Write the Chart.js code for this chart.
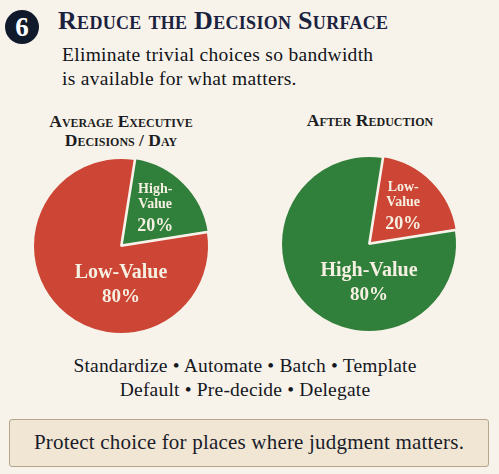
<!DOCTYPE html>
<html>
<head>
<meta charset="utf-8">
<script src="https://cdn.jsdelivr.net/npm/chart.js@4"></script>
<style>
  html, body { margin: 0; padding: 0; }
  body { width: 499px; height: 474px; background: #f8f3ea; position: relative; overflow: hidden;
         font-family: "Liberation Serif", "DejaVu Serif", serif; color: #1c1f2c; }
  .abs { position: absolute; white-space: nowrap; }
  #badge { left: 5px; top: 10px; width: 34px; height: 34px; border-radius: 50%; background: #101a2b;
           color: #fff; font-size: 27px; font-weight: bold; text-align: center; line-height: 34px; }
  #title { left: 58px; top: 6px; font-size: 26px; font-variant: small-caps; font-weight: bold; color: #1b2240; letter-spacing: 0.3px; }
  #sub { left: 62px; top: 43px; font-size: 19.5px; line-height: 24px; color: #111319; letter-spacing: 0.3px; }
  .ctitle { font-size: 17.5px; font-weight: bold; font-variant: small-caps; text-align: center; line-height: 19px; color: #1c1d22; }
  #t1 { left: 21px; top: 112px; width: 200px; }
  #t2 { left: 270px; top: 111px; width: 200px; }
  canvas { position: absolute; }
  #c1 { left: 21px; top: 146px; }
  #c2 { left: 269px; top: 144px; }
  #tactics { left: 0; top: 354px; width: 490px; text-align: center; font-size: 19.5px; line-height: 24px; color: #15171f; white-space: normal; letter-spacing: 0.2px; }
  #box { left: 9px; top: 419px; width: 480px; height: 48px; background: #f1e6d3; border: 1.5px solid #b4a58d; border-radius: 3px;
         box-sizing: border-box; text-align: center; font-size: 21px; line-height: 45px; color: #1a1c2a; letter-spacing: 0.2px; }
</style>
</head>
<body>
<div id="badge" class="abs">6</div>
<div id="title" class="abs">Reduce the Decision Surface</div>
<div id="sub" class="abs">Eliminate trivial choices so bandwidth<br>is available for what matters.</div>

<div id="t1" class="abs ctitle">Average Executive<br>Decisions / Day</div>
<div id="t2" class="abs ctitle">After Reduction</div>
<canvas id="c1" width="200" height="200"></canvas>
<canvas id="c2" width="200" height="200"></canvas>

<div id="tactics" class="abs">Standardize • Automate • Batch • Template<br>Default • Pre-decide • Delegate</div>
<div id="box" class="abs">Protect choice for places where judgment matters.</div>

<script>
const RED = "#cc4535";
const GREEN = "#307f3b";

// small slice first, large slice second
const beforeLabels = ["High-Value", "Low-Value"];
const beforeValues = [20, 80];
const beforeColors = [GREEN, RED];

const afterLabels = ["Low-Value", "High-Value"];
const afterValues = [20, 80];
const afterColors = [RED, GREEN];

// slice labels: small slice gets a split name, big slice sits under the centre
const sliceLabels = {
    id: "sliceLabels",
    afterDatasetsDraw(chart) {
        const ctx = chart.ctx;
        const meta = chart.getDatasetMeta(0);
        const ds = chart.data.datasets[0];
        ctx.save();
        ctx.fillStyle = "#f6f0e2";
        ctx.textAlign = "center";
        ctx.textBaseline = "middle";
        meta.data.forEach((arc, i) => {
            const name = chart.data.labels[i];
            const pct = ds.data[i] + "%";
            const mid = (arc.startAngle + arc.endAngle) / 2;
            if (i === 0) {
                const r = arc.outerRadius * 0.55;
                const x = arc.x + Math.cos(mid) * r;
                const y = arc.y + Math.sin(mid) * r;
                const parts = name.split("-");
                ctx.font = "bold 14px 'Liberation Serif', serif";
                ctx.fillText(parts[0] + "-", x, y - 22);
                ctx.fillText(parts[1], x, y - 7);
                ctx.font = "bold 18px 'Liberation Serif', serif";
                ctx.fillText(pct, x, y + 15);
            } else {
                const r = arc.outerRadius;
                ctx.font = "bold 20px 'Liberation Serif', serif";
                ctx.fillText(name, arc.x, arc.y + r * 0.30);
                ctx.font = "bold 19px 'Liberation Serif', serif";
                ctx.fillText(pct, arc.x, arc.y + r * 0.58);
            }
        });
        ctx.restore();
    }
};

function pieChart(canvasId, labels, data, colors) {
    const ctx = document.getElementById(canvasId);
    return new Chart(ctx, {
        type: "pie",
        data: {
            labels,
            datasets: [{
                data,
                backgroundColor: colors,
                borderColor: "#f8f3ea",
                borderWidth: 2,
                offset: [4, 0]
            }]
        },
        options: {
            responsive: false,
            animation: false,
            radius: 88,
            rotation: 9,
            layout: { padding: 0 },
            plugins: { legend: { display: false }, tooltip: { enabled: false } }
        },
        plugins: [sliceLabels]
    });
}

pieChart("c1", beforeLabels, beforeValues, beforeColors);
pieChart("c2", afterLabels, afterValues, afterColors);
</script>
</body>
</html>
